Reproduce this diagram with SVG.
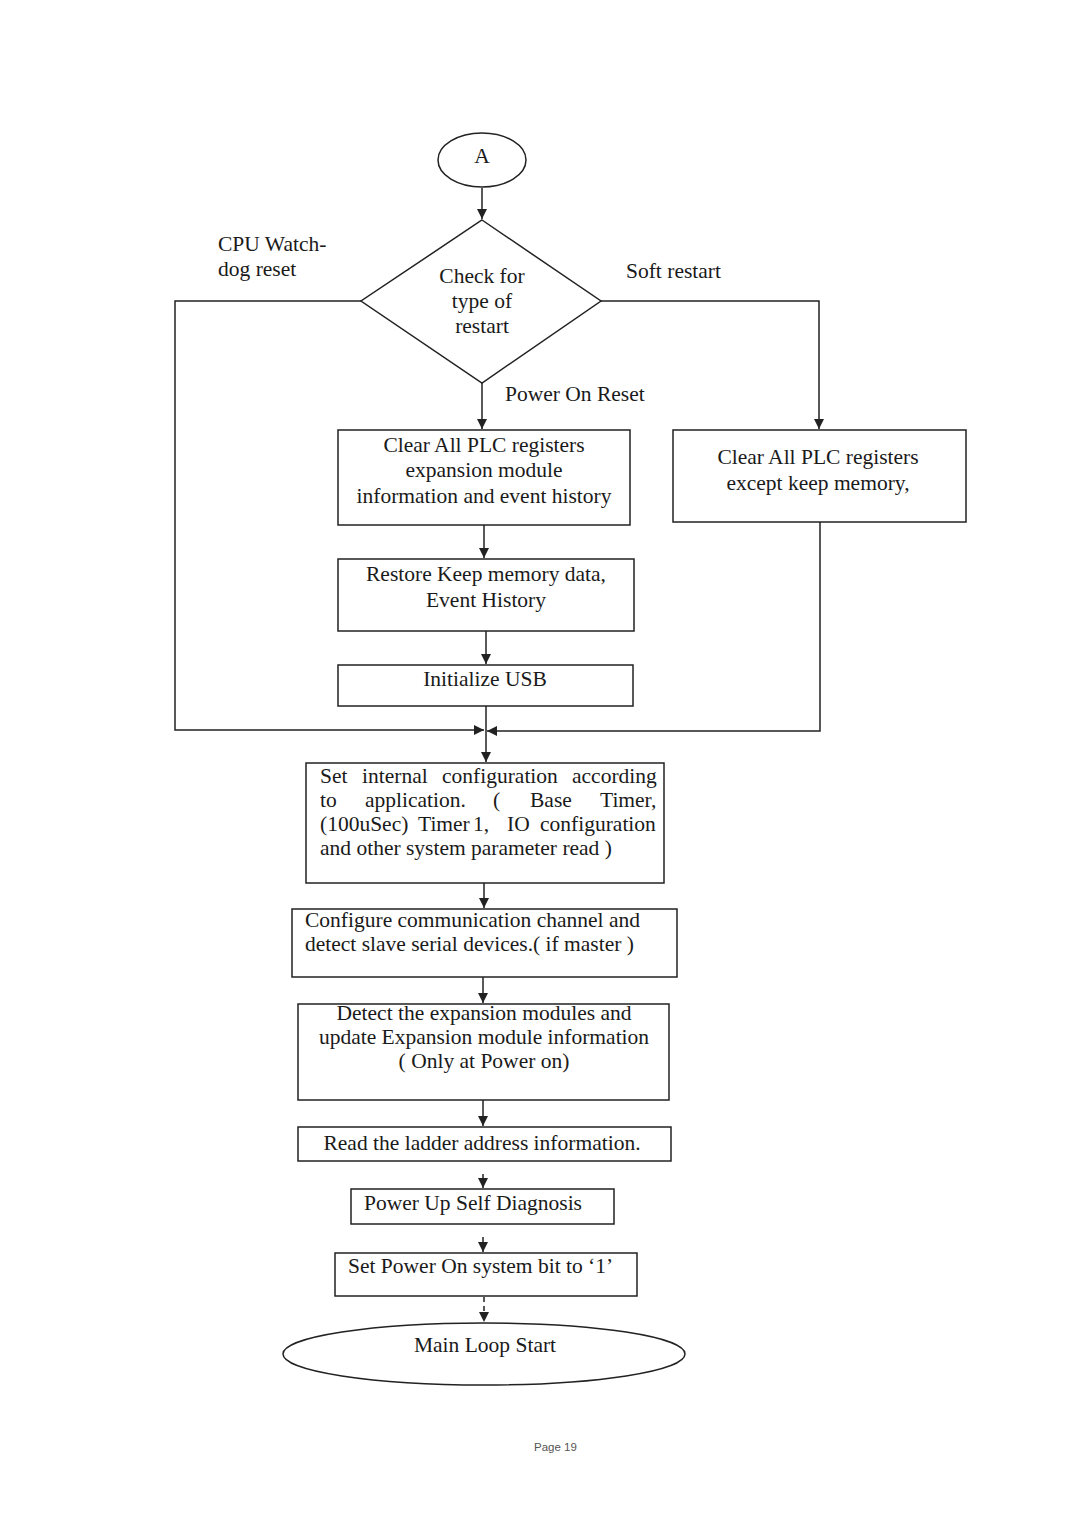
<svg xmlns="http://www.w3.org/2000/svg" width="1080" height="1525" viewBox="0 0 1080 1525">
<style>
  .n { fill: #fff; stroke: #222; stroke-width: 1.5; }
  .c { fill: none; stroke: #222; stroke-width: 1.5; }
  .t { font-family: "Liberation Serif", "Times New Roman", serif; font-size: 21.5px; fill: #1a1a1a; }
  .tc { text-anchor: middle; }
  .tb { font-size: 21.5px; }
  .pg { font-family: "Liberation Sans", Arial, sans-serif; font-size: 11.5px; fill: #555; }
</style>
<defs>
  <marker id="ah" viewBox="0 0 10 10" refX="10" refY="5" markerWidth="10" markerHeight="10" markerUnits="userSpaceOnUse" orient="auto">
    <path d="M0,0 L10,5 L0,10 z" fill="#222"/>
  </marker>
</defs>
<rect width="1080" height="1525" fill="#fff"/>

<g id="connectors">
  <line class="c" x1="482" y1="188" x2="482" y2="219" marker-end="url(#ah)"/>
  <line class="c" x1="482" y1="383" x2="482" y2="429" marker-end="url(#ah)"/>
  <polyline class="c" points="601,301 819,301 819,429" marker-end="url(#ah)"/>
  <polyline class="c" points="361,301 175,301 175,730 484,730" marker-end="url(#ah)"/>
  <polyline class="c" points="820,522 820,731 487,731" marker-end="url(#ah)"/>
  <line class="c" x1="484" y1="525" x2="484" y2="558" marker-end="url(#ah)"/>
  <line class="c" x1="486" y1="631" x2="486" y2="664" marker-end="url(#ah)"/>
  <line class="c" x1="486" y1="706" x2="486" y2="762" marker-end="url(#ah)"/>
  <line class="c" x1="484" y1="883" x2="484" y2="908" marker-end="url(#ah)"/>
  <line class="c" x1="483" y1="977" x2="483" y2="1003" marker-end="url(#ah)"/>
  <line class="c" x1="483" y1="1100" x2="483" y2="1126" marker-end="url(#ah)"/>
  <line class="c" x1="483" y1="1174" x2="483" y2="1188" marker-end="url(#ah)"/>
  <line class="c" x1="483" y1="1237" x2="483" y2="1252" marker-end="url(#ah)"/>
  <line class="c" x1="484" y1="1297" x2="484" y2="1322" stroke-dasharray="5,4" marker-end="url(#ah)"/>
</g>

<g id="labels">
  <text class="t" x="218" y="251">CPU Watch-</text>
  <text class="t" x="218" y="276">dog reset</text>
  <text class="t" x="626" y="278">Soft restart</text>
  <text class="t" x="505" y="401">Power On Reset</text>
</g>

<g id="nodeA">
  <ellipse class="n" cx="482" cy="160" rx="44" ry="27"/>
  <text class="t tc" x="482" y="163">A</text>
</g>

<g id="decision">
  <polygon class="n" points="482,220 601,301 482,383 361,301"/>
  <text class="t tc" x="482" y="283">Check for</text>
  <text class="t tc" x="482" y="308">type of</text>
  <text class="t tc" x="482" y="333">restart</text>
</g>

<g id="clearAll">
  <rect class="n" x="338" y="430" width="292" height="95"/>
  <text class="t tc" x="484" y="452">Clear All PLC registers</text>
  <text class="t tc" x="484" y="477">expansion module</text>
  <text class="t tc" x="484" y="503">information and event history</text>
</g>

<g id="clearExceptKeep">
  <rect class="n" x="673" y="430" width="293" height="92"/>
  <text class="t tc" x="818" y="464">Clear All PLC registers</text>
  <text class="t tc" x="818" y="490">except keep memory,</text>
</g>

<g id="restore">
  <rect class="n" x="338" y="559" width="296" height="72"/>
  <text class="t tc" x="486" y="581">Restore Keep memory data,</text>
  <text class="t tc" x="486" y="607">Event History</text>
</g>

<g id="initUSB">
  <rect class="n" x="338" y="665" width="295" height="41"/>
  <text class="t tc" x="485" y="686">Initialize USB</text>
</g>

<g id="setConfig">
  <rect class="n" x="306" y="763" width="358" height="120"/>
  <text class="t tb" y="783"><tspan x="320">Set</tspan><tspan x="362">internal</tspan><tspan x="442">configuration</tspan><tspan x="572">according</tspan></text>
  <text class="t tb" y="807"><tspan x="320">to</tspan><tspan x="365">application.</tspan><tspan x="493">(</tspan><tspan x="530">Base</tspan><tspan x="600">Timer,</tspan></text>
  <text class="t tb" y="831"><tspan x="320">(100uSec)</tspan><tspan x="418">Timer</tspan><tspan x="473">1,</tspan><tspan x="507">IO</tspan><tspan x="540">configuration</tspan></text>
  <text class="t tb" x="320" y="855">and other system parameter read )</text>
</g>

<g id="configComm">
  <rect class="n" x="292" y="909" width="385" height="68"/>
  <text class="t tb" x="305" y="927">Configure communication channel and</text>
  <text class="t tb" x="305" y="951">detect slave serial devices.( if master )</text>
</g>

<g id="detectExp">
  <rect class="n" x="298" y="1004" width="371" height="96"/>
  <text class="t tb tc" x="484" y="1020">Detect the expansion modules and</text>
  <text class="t tb tc" x="484" y="1044">update Expansion module information</text>
  <text class="t tb tc" x="484" y="1068">( Only at Power on)</text>
</g>

<g id="readLadder">
  <rect class="n" x="298" y="1127" width="373" height="34"/>
  <text class="t tb tc" x="482" y="1150">Read the ladder address information.</text>
</g>

<g id="selfDiag">
  <rect class="n" x="351" y="1189" width="263" height="35"/>
  <text class="t tb" x="364" y="1210">Power Up Self Diagnosis</text>
</g>

<g id="setBit">
  <rect class="n" x="335" y="1253" width="302" height="43"/>
  <text class="t tb" x="348" y="1273">Set Power On system bit to ‘1’</text>
</g>

<g id="mainLoop">
  <ellipse class="n" cx="484" cy="1354" rx="201" ry="31"/>
  <text class="t tb tc" x="485" y="1352">Main Loop Start</text>
</g>

<text class="pg" x="534" y="1451">Page 19</text>
</svg>
